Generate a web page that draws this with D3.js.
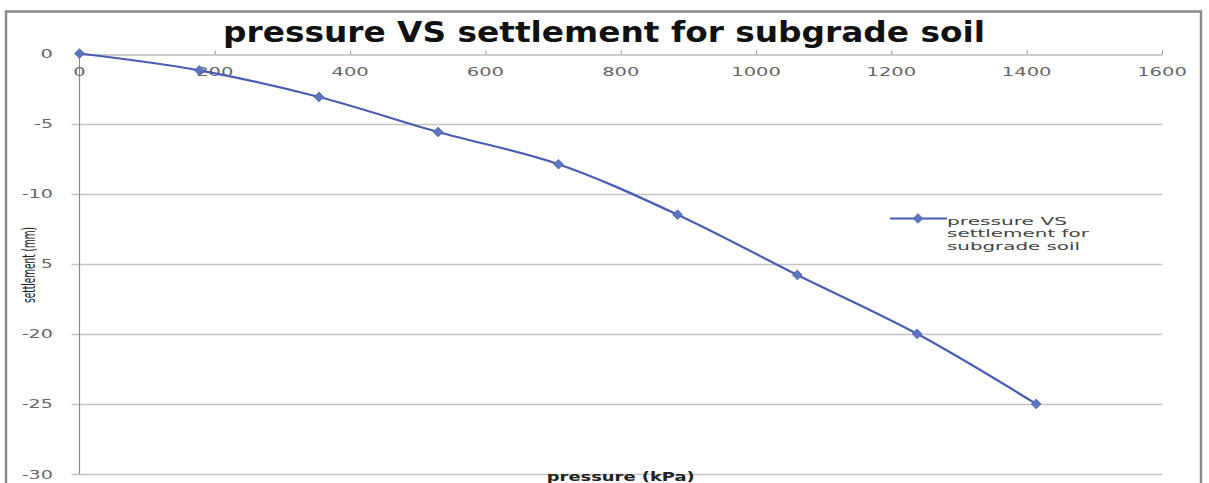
<!DOCTYPE html>
<html>
<head>
<meta charset="utf-8">
<script src="https://cdn.jsdelivr.net/npm/d3@7"></script>
<style>
  html, body { margin: 0; padding: 0; background: #fff; }
  svg { display: block; }
  text { font-family: "DejaVu Sans", sans-serif; }
</style>
</head>
<body>
<svg id="chart" width="1209" height="483"></svg>
<script>
// Plate load test: applied pressure (kPa) and measured settlement (mm)
const pressure = [0, 177, 354, 530, 708, 884, 1061, 1238, 1414];
const settlement = [0, -1.2, -3.1, -5.6, -7.9, -11.5, -15.8, -20.0, -25.0];

const xTicks = [0, 200, 400, 600, 800, 1000, 1200, 1400, 1600];
const yTicks = [0, -5, -10, -15, -20, -25, -30];

const title = "pressure VS settlement for subgrade soil";
const xTitle = "pressure (kPa)";
const yTitle = "settlement (mm)";
const legendLines = ["pressure VS", "settlement for", "subgrade soil"];

const svg = d3.select("#chart");

const x = d3.scaleLinear().domain([0, 1600]).range([79.5, 1162]);
const y = d3.scaleLinear().domain([-30, 0]).range([474, 53.5]);

const lineColor = "#4a5cb4";
const markerColor = "#5a78c2";

// Stretched glyph width so the numeric labels keep their wide look
const labelLen = s => s.split("").reduce((a, c) => a + (c === "-" ? 6.5 : 12.4), 0);

// Outer chart frame
svg.append("rect")
  .attr("x", 6).attr("y", 11.5)
  .attr("width", 1195).attr("height", 490)
  .attr("fill", "#fff")
  .attr("stroke", "#8a8a8a").attr("stroke-width", 2.5);

// Horizontal gridlines
svg.append("g")
  .selectAll("line")
  .data(yTicks.filter(d => d !== 0))
  .join("line")
  .attr("x1", x(0) - 8).attr("x2", x(1600))
  .attr("y1", d => Math.round(y(d)) + 0.5).attr("y2", d => Math.round(y(d)) + 0.5)
  .attr("stroke", "#c4c4c4").attr("stroke-width", 1.3);

// Vertical axis line
svg.append("line")
  .attr("x1", x(0)).attr("x2", x(0))
  .attr("y1", y(0)).attr("y2", y(-30))
  .attr("stroke", "#8c8c8c").attr("stroke-width", 1.2);

// Horizontal axis along settlement = 0, ticks pointing upward
const xAxis = d3.axisTop(x).tickValues(xTicks).tickSize(4).tickSizeOuter(0).tickFormat("");
const gx = svg.append("g")
  .attr("transform", `translate(0,${Math.round(y(0)) + 0.5})`)
  .call(xAxis);
gx.select(".domain").attr("stroke", "#9a9a9a").attr("stroke-width", 1.2);
gx.selectAll(".tick line").attr("stroke", "#9a9a9a");

// X tick labels sit just below the axis
svg.append("g")
  .selectAll("text")
  .data(xTicks)
  .join("text")
  .attr("x", d => x(d))
  .attr("y", 76)
  .attr("text-anchor", "middle")
  .attr("font-size", 12.5)
  .attr("fill", "#666")
  .attr("textLength", d => labelLen(String(d)))
  .attr("lengthAdjust", "spacingAndGlyphs")
  .text(d => d);

// Y tick labels
svg.append("g")
  .selectAll("text")
  .data(yTicks)
  .join("text")
  .attr("x", 53)
  .attr("y", d => y(d) + 4.5)
  .attr("text-anchor", "end")
  .attr("font-size", 12)
  .attr("fill", "#666")
  .attr("textLength", d => labelLen(String(d)))
  .attr("lengthAdjust", "spacingAndGlyphs")
  .text(d => d);

// Data series
const pts = pressure.map((p, i) => [p, settlement[i]]);
const line = d3.line()
  .x(d => x(d[0]))
  .y(d => y(d[1]))
  .curve(d3.curveCatmullRom.alpha(0.5));

svg.append("path")
  .datum(pts)
  .attr("d", line)
  .attr("fill", "none")
  .attr("stroke", lineColor)
  .attr("stroke-width", 2.2);

const diamond = d3.symbol().type(d3.symbolDiamond2).size(60);
svg.append("g")
  .selectAll("path")
  .data(pts)
  .join("path")
  .attr("transform", d => `translate(${x(d[0])},${y(d[1])})`)
  .attr("d", diamond)
  .attr("fill", markerColor)
  .attr("stroke", lineColor)
  .attr("stroke-width", 0.8);

// Chart title
svg.append("text")
  .attr("x", 223).attr("y", 42)
  .attr("font-family", "Lato, 'DejaVu Sans', sans-serif")
  .attr("font-size", 28).attr("font-weight", "bold")
  .attr("fill", "#111")
  .attr("textLength", 762)
  .attr("lengthAdjust", "spacingAndGlyphs")
  .text(title);

// Axis titles
const yt = svg.append("g").attr("transform", "translate(30,265) rotate(-90)");
yt.append("rect")
  .attr("x", -38).attr("y", -10).attr("width", 76).attr("height", 19)
  .attr("fill", "#fff");
yt.append("text")
  .attr("x", 0).attr("y", 5)
  .attr("text-anchor", "middle")
  .attr("font-family", "'Liberation Sans Narrow', 'DejaVu Sans Condensed', sans-serif")
  .attr("font-size", 17)
  .attr("fill", "#222")
  .attr("textLength", 76)
  .attr("lengthAdjust", "spacingAndGlyphs")
  .text(yTitle);

svg.append("text")
  .attr("x", x(800)).attr("y", 480.5)
  .attr("text-anchor", "middle")
  .attr("font-size", 12.5).attr("font-weight", "bold")
  .attr("fill", "#222")
  .attr("textLength", 148)
  .attr("lengthAdjust", "spacingAndGlyphs")
  .text(xTitle);

// Legend
const lg = svg.append("g");
lg.append("line")
  .attr("x1", 890).attr("x2", 947)
  .attr("y1", 218.5).attr("y2", 218.5)
  .attr("stroke", lineColor).attr("stroke-width", 2.2);
lg.append("path")
  .attr("transform", "translate(918,218.5)")
  .attr("d", diamond)
  .attr("fill", markerColor)
  .attr("stroke", lineColor)
  .attr("stroke-width", 0.8);
const legendWidths = [120, 142, 133];
lg.selectAll("text")
  .data(legendLines)
  .join("text")
  .attr("x", 947)
  .attr("y", (d, i) => 224.5 + i * 12.5)
  .attr("font-size", 11)
  .attr("fill", "#444")
  .attr("textLength", (d, i) => legendWidths[i])
  .attr("lengthAdjust", "spacingAndGlyphs")
  .text(d => d);
</script>
</body>
</html>
